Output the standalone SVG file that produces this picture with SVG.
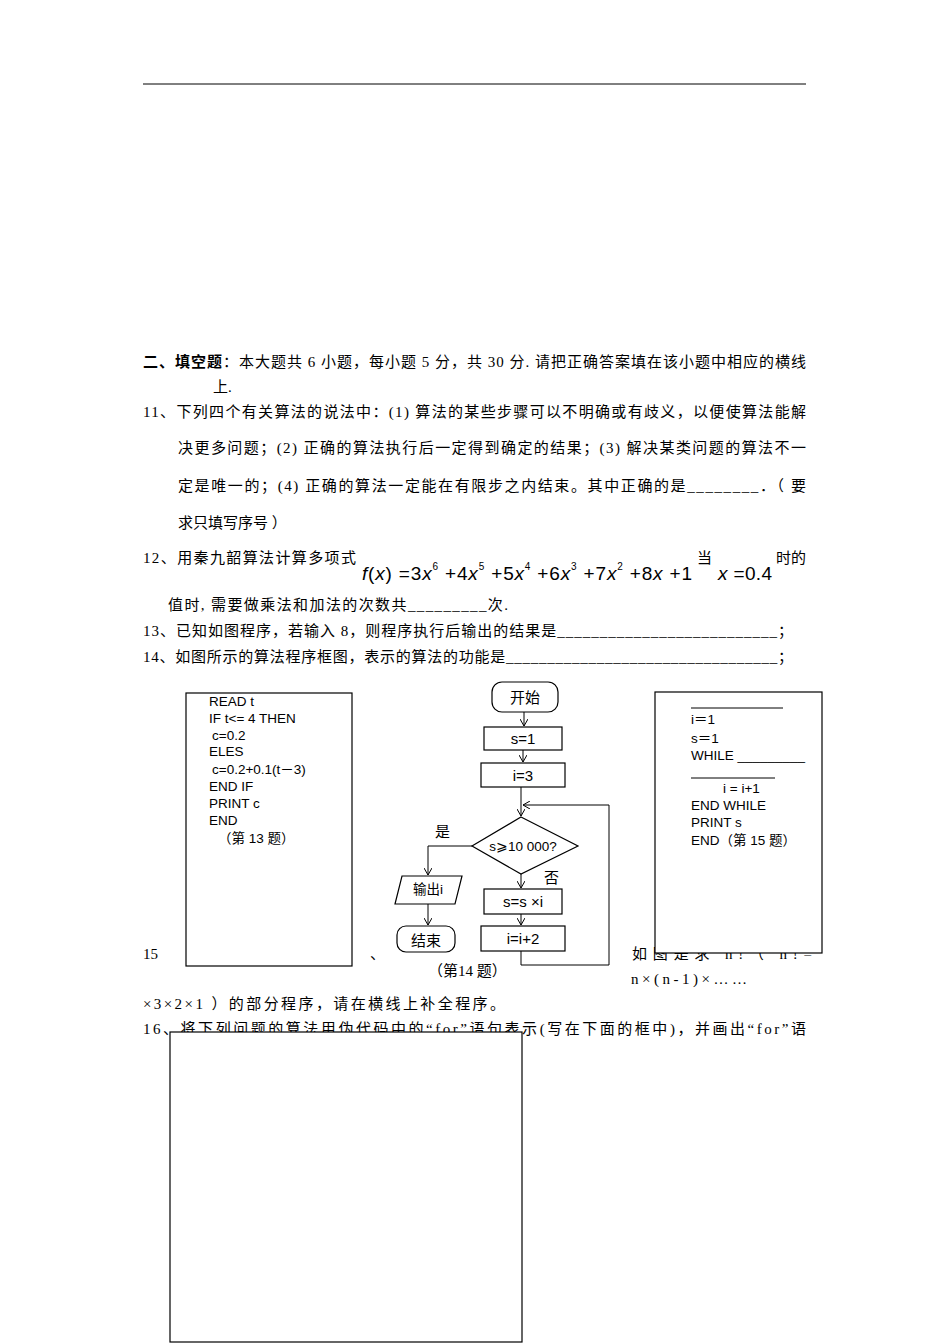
<svg xmlns="http://www.w3.org/2000/svg" width="950" height="1344" viewBox="0 0 950 1344">
<style>
.t{font-family:"Liberation Serif","Noto Sans CJK SC",serif;font-size:15px;fill:#000}
.s{font-family:"Liberation Sans","Noto Sans CJK SC",sans-serif;font-size:13.5px;fill:#000}
.f{font-family:"Liberation Sans","Noto Sans CJK SC",sans-serif;font-size:15px;fill:#000}
.m{font-family:"Liberation Sans",sans-serif;font-size:19px;fill:#000}
.sh{fill:#fff;stroke:#000;stroke-width:1.2}
.ln{fill:none;stroke:#000;stroke-width:1}
</style>
<defs><marker id="a" markerWidth="8" markerHeight="8" refX="7" refY="4" orient="auto"><path d="M0,0 L7,4 L0,8" fill="none" stroke="#000"/></marker></defs>
<rect width="950" height="1344" fill="#fff"/>
<line x1="143" y1="84" x2="806" y2="84" stroke="#000"/>
<text class="t" x="143" y="367" textLength="663" lengthAdjust="spacing"><tspan font-weight="bold">二、填空题</tspan>：本大题共 6 小题，每小题 5 分，共 30 分. 请把正确答案填在该小题中相应的横线</text>
<text class="t" x="213" y="392">上.</text>
<text class="t" x="143" y="417" textLength="663" lengthAdjust="spacing">11、下列四个有关算法的说法中：(1) 算法的某些步骤可以不明确或有歧义，以便使算法能解</text>
<text class="t" x="178" y="453" textLength="628" lengthAdjust="spacing">决更多问题；(2) 正确的算法执行后一定得到确定的结果；(3) 解决某类问题的算法不一</text>
<text class="t" x="178" y="491" textLength="628" lengthAdjust="spacing">定是唯一的；(4) 正确的算法一定能在有限步之内结束。其中正确的是________．（ 要</text>
<text class="t" x="178" y="528">求只填写序号 ）</text>
<text class="t" x="143" y="563" textLength="213" lengthAdjust="spacing">12、用秦九韶算法计算多项式</text>
<text class="m" x="362" y="580" textLength="330" lengthAdjust="spacing"><tspan font-style="italic">f</tspan>(<tspan font-style="italic">x</tspan>) =3<tspan font-style="italic">x</tspan><tspan font-size="10" dy="-10">6</tspan><tspan dy="10"> +4</tspan><tspan font-style="italic">x</tspan><tspan font-size="10" dy="-10">5</tspan><tspan dy="10"> +5</tspan><tspan font-style="italic">x</tspan><tspan font-size="10" dy="-10">4</tspan><tspan dy="10"> +6</tspan><tspan font-style="italic">x</tspan><tspan font-size="10" dy="-10">3</tspan><tspan dy="10"> +7</tspan><tspan font-style="italic">x</tspan><tspan font-size="10" dy="-10">2</tspan><tspan dy="10"> +8</tspan><tspan font-style="italic">x</tspan> +1</text>
<text class="t" x="697" y="563">当</text>
<text class="m" x="718" y="580" textLength="54" lengthAdjust="spacing"><tspan font-style="italic">x</tspan> =0.4</text>
<text class="t" x="776" y="563">时的</text>
<text class="t" x="168" y="610" textLength="340" lengthAdjust="spacing">值时, 需要做乘法和加法的次数共_________次.</text>
<text class="t" x="143" y="636" textLength="650" lengthAdjust="spacing">13、已知如图程序，若输入 8，则程序执行后输出的结果是__________________________；</text>
<text class="t" x="143" y="662" textLength="650" lengthAdjust="spacing">14、如图所示的算法程序框图，表示的算法的功能是_________________________________；</text>
<text class="t" x="143" y="959">15</text>
<text class="t" x="370" y="959">、</text>
<text class="t" x="632" y="959" textLength="180" lengthAdjust="spacing">如图是求 n!（ n!=</text>
<text class="t" x="631" y="984" textLength="116" lengthAdjust="spacing">n×(n-1)×……</text>
<text class="t" x="143" y="1009" textLength="362" lengthAdjust="spacing">×3×2×1 ）的部分程序，请在横线上补全程序。</text>
<text class="t" x="143" y="1034" textLength="663" lengthAdjust="spacing">16、将下列问题的算法用伪代码中的“for”语句表示(写在下面的框中)，并画出“for”语</text>
<g id="box13"><rect class="sh" x="186" y="693" width="166" height="273"/>
<text class="s" x="209" y="706">READ t</text><text class="s" x="209" y="723">IF t&lt;= 4 THEN</text><text class="s" x="212" y="740">c=0.2</text><text class="s" x="209" y="756">ELES</text><text class="s" x="212" y="774">c=0.2+0.1(t－3)</text><text class="s" x="209" y="791">END IF</text><text class="s" x="209" y="808">PRINT c</text><text class="s" x="209" y="825">END</text><text class="s" x="218" y="843">（第 13 题）</text></g>
<g id="connectors">
<line class="ln" x1="524" y1="712" x2="524" y2="726" marker-end="url(#a)"/>
<line class="ln" x1="523" y1="750" x2="523" y2="762" marker-end="url(#a)"/>
<line class="ln" x1="521" y1="787" x2="521" y2="816" marker-end="url(#a)"/>
<polyline class="ln" points="521,951 521,965 609,965 609,805 523,805" marker-end="url(#a)"/>
<polyline class="ln" points="472,846 428,846 428,875" marker-end="url(#a)"/>
<line class="ln" x1="428" y1="904" x2="428" y2="925" marker-end="url(#a)"/>
<line class="ln" x1="521" y1="874" x2="521" y2="888" marker-end="url(#a)"/>
<line class="ln" x1="521" y1="914" x2="521" y2="925" marker-end="url(#a)"/>
</g>
<g id="start"><rect class="sh" x="492" y="682" width="66" height="30" rx="10"/><text class="f" x="525" y="703" text-anchor="middle" font-size="17">开始</text></g>
<g id="s1"><rect class="sh" x="484" y="727" width="78" height="23"/><text class="f" x="523" y="744" text-anchor="middle">s=1</text></g>
<g id="i3"><rect class="sh" x="481" y="763" width="84" height="24"/><text class="f" x="523" y="781" text-anchor="middle">i=3</text></g>
<g id="cond"><polygon class="sh" points="521,817 578,846 521,874 472,846"/><text class="s" x="523" y="851" text-anchor="middle" font-size="11">s⩾10 000?</text></g>
<g id="out"><polygon class="sh" points="402,876 462,876 455,904 395,904"/><text class="s" x="428" y="894" text-anchor="middle" font-size="11">输出i</text></g>
<g id="end"><rect class="sh" x="397" y="926" width="58" height="26" rx="9"/><text class="f" x="426" y="946" text-anchor="middle" font-size="17">结束</text></g>
<g id="mul"><rect class="sh" x="484" y="889" width="78" height="25"/><text class="f" x="523" y="907" text-anchor="middle">s=s ×i</text></g>
<g id="inc"><rect class="sh" x="481" y="926" width="84" height="25"/><text class="f" x="523" y="944" text-anchor="middle">i=i+2</text></g>
<text class="f" x="435" y="837" font-size="16">是</text><text class="f" x="544" y="883" font-size="16">否</text>
<text class="t" x="428" y="976">（第14 题）</text>
<g id="box15"><rect class="sh" x="655" y="692" width="167" height="261"/>
<line x1="691" y1="708" x2="783" y2="708" stroke="#000"/>
<text class="s" x="691" y="724">i＝1</text><text class="s" x="691" y="743">s＝1</text><text class="s" x="691" y="760">WHILE _________</text>
<line x1="691" y1="778" x2="775" y2="778" stroke="#000"/>
<text class="s" x="723" y="793">i = i+1</text><text class="s" x="691" y="810">END WHILE</text><text class="s" x="691" y="827">PRINT  s</text><text class="s" x="691" y="845">END（第 15 题）</text></g>
<g id="box16"><rect class="sh" x="170" y="1032" width="352" height="310"/></g>
</svg>
